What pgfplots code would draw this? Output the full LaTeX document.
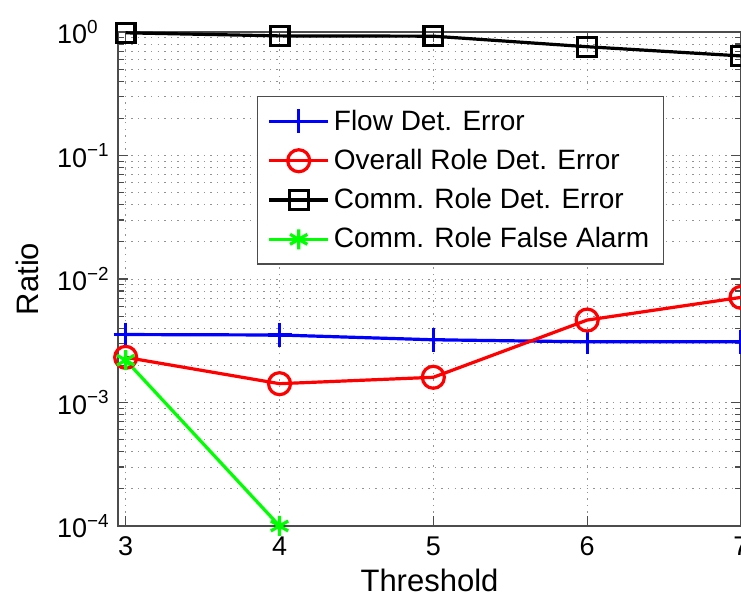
\documentclass[border=0pt]{standalone}
\usepackage{pgfplots}
\pgfplotsset{compat=1.18}
\usetikzlibrary{calc}
\usepackage{fontspec}
\setmainfont{Liberation Sans}
\begin{document}
\begin{tikzpicture}
\begin{axis}[
  scale only axis,
  width=311.5pt, height=247pt,
  xmin=2.95, xmax=7,
  ymode=log, ymin=1e-4, ymax=1,
  xtick={3,4,5,6,7},
  ytick={1e-4,1e-3,1e-2,1e-1,1},
  yticklabels={10\textsuperscript{−4},10\textsuperscript{−3},10\textsuperscript{−2},10\textsuperscript{−1},10\textsuperscript{0}},
  /pgf/number format/assume math mode=true,
  tick label style={font=\fontsize{13.5}{16}\selectfont},
  yticklabel style={anchor=west, xshift=-34pt},
  xticklabel style={yshift=-2pt},
  label style={font=\fontsize{15.5}{18}\selectfont},
  xlabel={Threshold},
  ylabel={Ratio},
  xlabel style={at={(axis description cs:0.5,0)}, anchor=center, yshift=-27pt},
  ylabel style={at={(axis description cs:-0.146,0.5)}, anchor=center},
  grid=both,
  major grid style={dash pattern=on 0.7pt off 2.6pt, gray!85},
  minor grid style={dash pattern=on 0.7pt off 2.6pt, gray!85},
  tick align=inside,
  axis line style={gray!60!black, line width=0.6pt},
  tick style={gray!60!black, line width=0.6pt},
  major tick length=5pt, minor tick length=3pt,
  legend cell align=left,
  legend style={at={(0.223,0.870)}, anchor=north west, draw=gray!60!black, line width=0.6pt,
    font=\fontsize{14}{16}\selectfont, row sep=4pt, inner xsep=5pt, inner ysep=4.5pt,
    /tikz/every even column/.style={column sep=3pt}},
  legend image code/.code={\draw[mark repeat=2,mark phase=2] plot coordinates {(0cm,0cm) (0.52cm,0cm) (1.04cm,0cm)};},
  every axis plot/.append style={line width=1.6pt},
]
\addplot[color={rgb,255:red,0;green,0;blue,255}, mark=+, mark size=6pt] coordinates {
  (3,0.00355) (4,0.00352) (5,0.00322) (6,0.00310) (7,0.00310)};
\addlegendentry{Flow Det. Error}
\addplot[color={rgb,255:red,255;green,0;blue,0}, mark=o, mark size=5.5pt] coordinates {
  (3,0.00232) (4,0.00142) (5,0.00160) (6,0.00465) (7,0.00710)};
\addlegendentry{Overall Role Det. Error}
\addplot[color=black, mark=square, mark size=4.7pt] coordinates {
  (3,0.985) (4,0.93) (5,0.925) (6,0.76) (7,0.64)};
\addlegendentry{Comm. Role Det. Error}
\addplot[color={rgb,255:red,0;green,255;blue,0}, mark=asterisk, mark size=5pt] coordinates {
  (3,0.0022) (4,0.0001)};
\addlegendentry{Comm. Role False Alarm\hspace{20pt}}
\end{axis}
\pgfresetboundingbox
\path ($(current axis.south west)+(-59pt,-35pt)$) rectangle ($(current axis.north east)+(0pt,16pt)$);
\end{tikzpicture}
\end{document}
